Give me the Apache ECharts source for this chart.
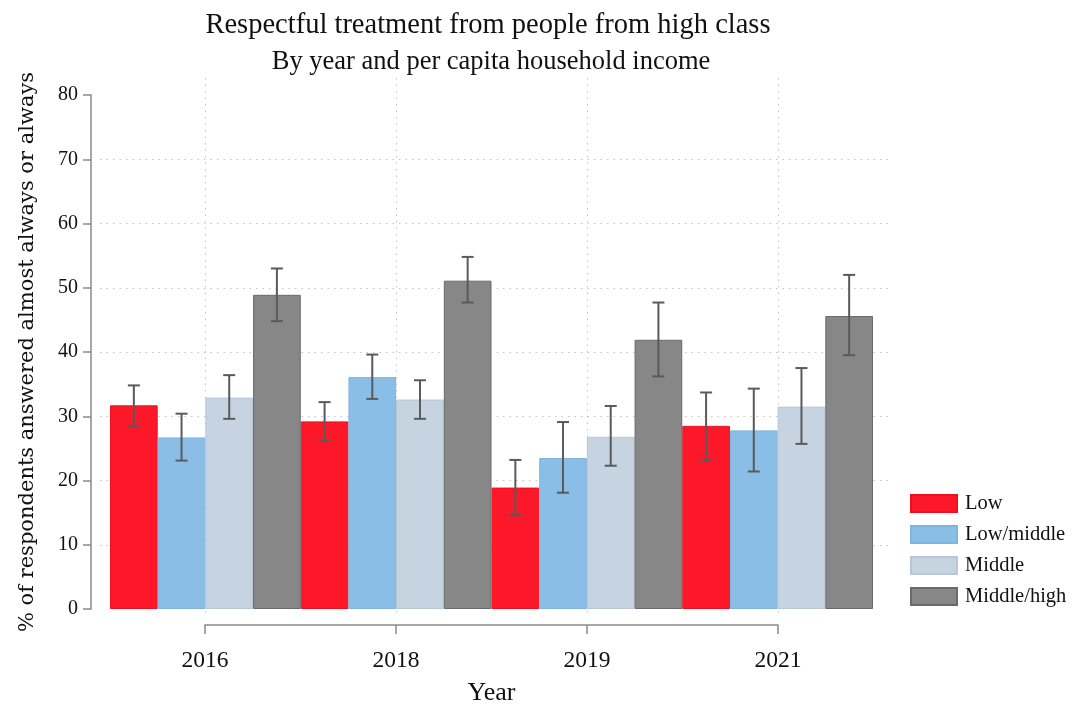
<!DOCTYPE html>
<html>
<head>
<meta charset="utf-8">
<script src="https://cdn.jsdelivr.net/npm/echarts@6/dist/echarts.min.js"></script>
<style>
  html, body { margin: 0; padding: 0; background: #fff; }
  #chart { width: 1074px; height: 707px; }
</style>
</head>
<body>
<div id="chart"></div>
<script>
  // years on the x axis, income groups in the legend
  var years = ['2016', '2018', '2019', '2021'];
  var groups = ['Low', 'Low/middle', 'Middle', 'Middle/high'];

  // % answered almost always or always
  var low = [31.7, 29.2, 18.9, 28.5];
  var lowMiddle = [26.7, 36.1, 23.5, 27.8];
  var middle = [32.9, 32.6, 26.8, 31.5];
  var middleHigh = [48.9, 51.1, 41.9, 45.6];

  // confidence intervals (lower / upper)
  var lowLo = [28.5, 26.2, 14.6, 23.2];
  var lowHi = [34.8, 32.2, 23.2, 33.7];
  var lowMiddleLo = [23.1, 32.7, 18.1, 21.4];
  var lowMiddleHi = [30.4, 39.6, 29.1, 34.3];
  var middleLo = [29.6, 29.6, 22.3, 25.7];
  var middleHi = [36.4, 35.6, 31.6, 37.5];
  var middleHighLo = [44.8, 47.7, 36.2, 39.5];
  var middleHighHi = [53.0, 54.8, 47.7, 52.0];

  var yTicks = [0, 80, 10];

  var serif = '"Liberation Serif", "Times New Roman", serif';
  var colors = ['#fc1829', '#8bbee6', '#c6d3e0', '#878787'];
  var borders = ['#f0101f', '#7fb4e0', '#b8c7d6', '#6a6a6a'];
  var axisGray = '#8a8a8a';
  var dotted = { type: [1.5, 5], color: '#c4c4c4' };

  var values = [low, lowMiddle, middle, middleHigh];
  var ciLo = [lowLo, lowMiddleLo, middleLo, middleHighLo];
  var ciHi = [lowHi, lowMiddleHi, middleHi, middleHighHi];

  var myChart = echarts.init(document.getElementById('chart'));

  var series = [];
  groups.forEach(function (name, k) {
    series.push({
      name: name,
      type: 'bar',
      xAxisIndex: 1,
      yAxisIndex: 1,
      barGap: '0%',
      barCategoryGap: '0%',
      data: values[k],
      itemStyle: { color: colors[k], borderColor: borders[k], borderWidth: 1 },
      emphasis: { disabled: true }
    });
  });
  // error bars
  groups.forEach(function (name, k) {
    series.push({
      type: 'custom',
      xAxisIndex: 1,
      yAxisIndex: 1,
      z: 5,
      data: years.map(function (y, i) { return [i, ciLo[k][i], ciHi[k][i]]; }),
      renderItem: function (params, api) {
        var band = api.size([1, 0])[0];
        var bw = band / groups.length;
        var x = api.coord([api.value(0), 0])[0] + (k - 1.5) * bw;
        var yl = api.coord([api.value(0), api.value(1)])[1];
        var yh = api.coord([api.value(0), api.value(2)])[1];
        var st = { stroke: '#5a5a5a', lineWidth: 2 };
        return {
          type: 'group',
          children: [
            { type: 'line', shape: { x1: x, y1: yl, x2: x, y2: yh }, style: st },
            { type: 'line', shape: { x1: x - 6, y1: yl, x2: x + 6, y2: yl }, style: st },
            { type: 'line', shape: { x1: x - 6, y1: yh, x2: x + 6, y2: yh }, style: st }
          ]
        };
      }
    });
  });

  var option = {
    backgroundColor: '#fff',
    animation: false,
    title: [{
      text: 'Respectful treatment from people from high class',
      left: 483, top: 6, textAlign: 'center',
      textStyle: { fontFamily: serif, fontSize: 28.5, fontWeight: 'normal', color: '#111' }
    }, {
      text: 'By year and per capita household income',
      left: 486, top: 44, textAlign: 'center',
      textStyle: { fontFamily: serif, fontSize: 26.5, fontWeight: 'normal', color: '#111' }
    }],
    legend: {
      orient: 'vertical',
      left: 905,
      top: 488,
      icon: 'rect',
      itemWidth: 46,
      itemHeight: 17,
      itemGap: 10,
      data: groups,
      textStyle: { fontFamily: serif, fontSize: 20.5, color: '#111', padding: [0, 0, 0, 3] }
    },
    grid: [
      { left: 100, right: 184, top: 95, bottom: 98 },   // horizontal grid lines
      { left: 110, right: 201, top: 95, bottom: 98 },   // bars
      { left: 205, right: 296, top: 78, bottom: 90 },   // vertical grid lines
      { left: 205, right: 296, top: 600, bottom: 81 },  // x axis line
      { left: 91, right: 900, top: 95, bottom: 98 }     // y axis line
    ],
    xAxis: [
      { gridIndex: 0, type: 'value', show: false },
      { gridIndex: 1, type: 'category', data: years, show: false },
      {
        gridIndex: 2, type: 'value', min: 0, max: years.length - 1, interval: 1,
        axisLine: { show: false }, axisTick: { show: false }, axisLabel: { show: false },
        splitLine: { show: true, lineStyle: dotted }
      },
      {
        gridIndex: 3, type: 'value', min: 0, max: years.length - 1, interval: 1,
        name: 'Year', nameLocation: 'middle', nameGap: 55,
        nameTextStyle: { fontFamily: serif, fontSize: 26, color: '#111' },
        axisLine: { show: true, lineStyle: { color: axisGray, width: 1.5 } },
        axisTick: { show: true, length: 9, lineStyle: { color: axisGray, width: 1.5 } },
        axisLabel: {
          margin: 24, fontFamily: serif, fontSize: 23.5, color: '#111',
          formatter: function (v) { return years[v]; }
        },
        splitLine: { show: false }
      },
      { gridIndex: 4, type: 'value', show: false }
    ],
    yAxis: [
      {
        gridIndex: 0, type: 'value', min: yTicks[0], max: yTicks[1], interval: yTicks[2],
        axisLine: { show: false }, axisTick: { show: false }, axisLabel: { show: false },
        splitLine: { show: true, showMinLine: false, showMaxLine: false, lineStyle: dotted }
      },
      { gridIndex: 1, type: 'value', min: yTicks[0], max: yTicks[1], show: false },
      { gridIndex: 2, type: 'value', min: 0, max: 1, show: false },
      { gridIndex: 3, type: 'value', min: 0, max: 1, show: false },
      {
        gridIndex: 4, type: 'value', min: yTicks[0], max: yTicks[1], interval: yTicks[2],
        name: '% of respondents answered almost always or always',
        nameLocation: 'middle', nameGap: 53,
        nameTextStyle: { fontFamily: '"DejaVu Serif", serif', fontSize: 21, color: '#111' },
        axisLine: { show: true, lineStyle: { color: axisGray, width: 1.5 } },
        axisTick: { show: true, length: 8, lineStyle: { color: axisGray, width: 1.5 } },
        axisLabel: { margin: 13, fontFamily: serif, fontSize: 20, color: '#111' },
        splitLine: { show: false }
      }
    ],
    series: series
  };
  myChart.setOption(option);
</script>
</body>
</html>
